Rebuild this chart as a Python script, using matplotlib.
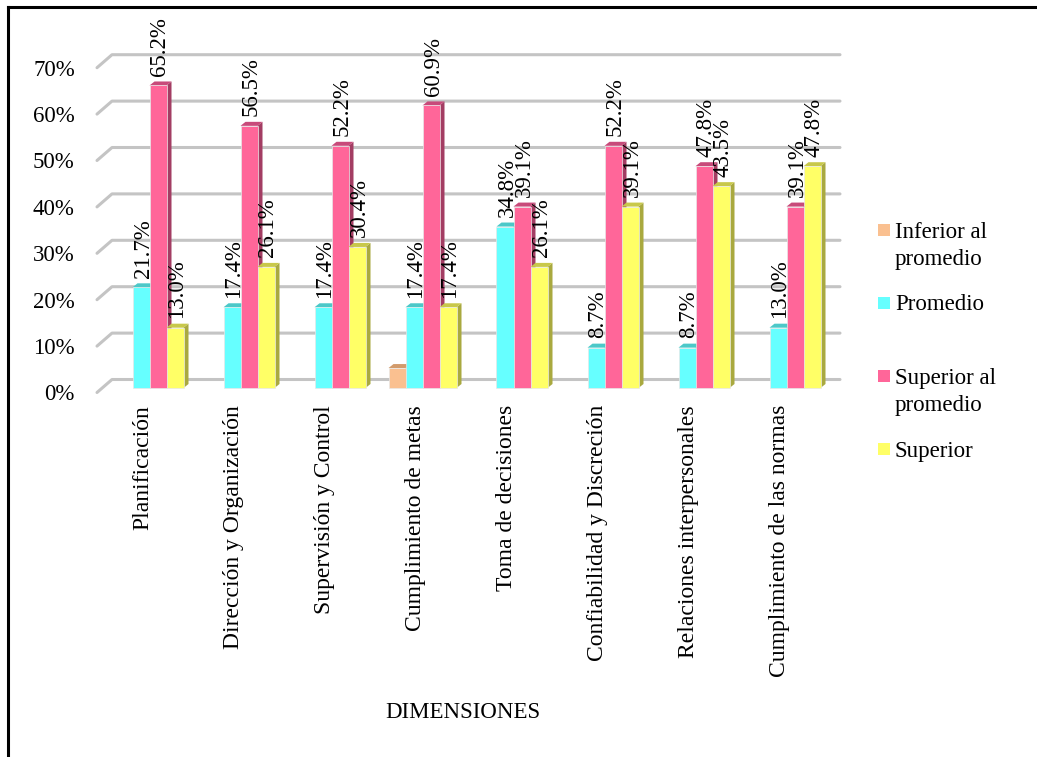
import matplotlib
matplotlib.use("Agg")
import matplotlib.pyplot as plt
from matplotlib.patches import Polygon, Rectangle
from matplotlib.lines import Line2D

plt.rcParams['font.family'] = 'serif'
plt.rcParams['font.serif'] = ['Liberation Serif']
FONT = 'Liberation Serif'

categories = ["Planificación", "Dirección y Organización", "Supervisión y Control",
              "Cumplimiento de metas", "Toma de decisiones", "Confiabilidad y Discreción",
              "Relaciones interpersonales", "Cumplimiento de las normas"]
inferior = [0, 0, 0, 4.3, 0, 0, 0, 0]
promedio = [21.7, 17.4, 17.4, 17.4, 34.8, 8.7, 8.7, 13.0]
superior_prom = [65.2, 56.5, 52.2, 60.9, 39.1, 52.2, 47.8, 39.1]
superior = [13.0, 26.1, 30.4, 17.4, 26.1, 39.1, 43.5, 47.8]
yticks = [0, 10, 20, 30, 40, 50, 60, 70]

series = [inferior, promedio, superior_prom, superior]
front_c = ['#FAC090', '#66FFFF', '#FF6699', '#FFFF66']
top_c = ['#D29B6C', '#4CC8C8', '#C84A7A', '#C8C84A']
side_c = ['#B8885E', '#45B5B5', '#A33D63', '#A9A93F']
show_label = [False, True, True, True]

W, H = 1037, 757
fig = plt.figure(figsize=(W / 100, H / 100), dpi=100)
ax_l, ax_r = 97, 825
ax_b = 392.5
ax_t = ax_b - 70 * 4.64
ax = fig.add_axes([ax_l / W, (H - ax_b) / H, (ax_r - ax_l) / W, (ax_b - ax_t) / H])
ax.set_xlim(0, len(categories))
ax.set_ylim(0, 70)
for s in ax.spines.values():
    s.set_visible(False)

pxx = len(categories) / (ax_r - ax_l)
pxy = 70 / (ax_b - ax_t)

# back-wall gridlines
gbx, gby = 15 * pxx, 13 * pxy
for v in yticks:
    ax.add_line(Line2D([0, gbx, len(categories) + gbx], [v, v + gby, v + gby],
                       color='#C4C4C4', lw=2.2, zorder=0, clip_on=False,
                       solid_capstyle='round'))

ax.set_yticks(yticks)
ax.set_yticklabels([f"{v}%" for v in yticks], fontsize=16.5, fontfamily=FONT)
ax.tick_params(axis='y', length=0, pad=16)
ax.set_xticks([i + 0.5 for i in range(len(categories))])
ax.set_xticklabels(categories, rotation=90, fontsize=17, va='top', ha='center', fontfamily=FONT)
ax.tick_params(axis='x', length=0, pad=9)

# 3D bars
ox, oy = 7 * pxx, 4.5 * pxy
dx, dy = 5 * pxx, 4 * pxy
bw = 17 * pxx
z = 2
for i in range(len(categories)):
    for k, vals in enumerate(series):
        v = vals[i]
        if v <= 0:
            continue
        x0 = i + 0.5 + (k - 2) * bw + ox
        x1 = x0 + bw
        b = oy
        side = Polygon([(x1, b), (x1 + dx, b + dy), (x1 + dx, b + v + dy), (x1, b + v)],
                       closed=True, facecolor=side_c[k], edgecolor='none', zorder=z, clip_on=False)
        ax.add_patch(side)
        top = Polygon([(x0, b + v), (x1, b + v), (x1 + dx, b + v + dy), (x0 + dx, b + v + dy)],
                      closed=True, facecolor=top_c[k], edgecolor='none', zorder=z, clip_on=False)
        ax.add_patch(top)
        ax.bar(x0, v, bottom=b, width=bw, align='edge', color=front_c[k],
               edgecolor='#E8E8E8', linewidth=0.5, zorder=z + 0.5, clip_on=False)
        z += 1
        if show_label[k]:
            ax.annotate(f"{v:.1f}%", xy=(x0 + bw / 2 + 2 * pxx, b + v + dy), xytext=(0, 4),
                        textcoords='offset points', rotation=90, ha='center', va='bottom',
                        fontsize=16.5, fontfamily=FONT, zorder=100, annotation_clip=False)

# x axis title
fig.text(463 / W, 1 - 712 / H, "DIMENSIONES", ha='center', va='center', fontsize=16.5, fontfamily=FONT)

# legend (manual, Excel style)
leg_rows = [(224, 238, ["Inferior al", "promedio"]),
            (297, 310, ["Promedio"]),
            (370, 384, ["Superior al", "promedio"]),
            (443, 457, ["Superior"])]
for k, (sq_top, base, lines) in enumerate(leg_rows):
    fig.add_artist(Rectangle((878 / W, 1 - (sq_top + 12) / H), 12 / W, 12 / H,
                             transform=fig.transFigure, facecolor=front_c[k], edgecolor='none'))
    for j, t in enumerate(lines):
        fig.text(895 / W, 1 - (base + 27 * j) / H, t, ha='left', va='baseline',
                 fontsize=16.5, fontfamily=FONT)

# outer frame
fig.add_artist(Line2D([8 / W, 8 / W], [0, 1 - 7 / H], color='black', lw=2.2, transform=fig.transFigure))
fig.add_artist(Line2D([8 / W, 1], [1 - 7 / H, 1 - 7 / H], color='black', lw=2.2, transform=fig.transFigure))

fig.savefig("out.png", dpi=100, facecolor='white')
